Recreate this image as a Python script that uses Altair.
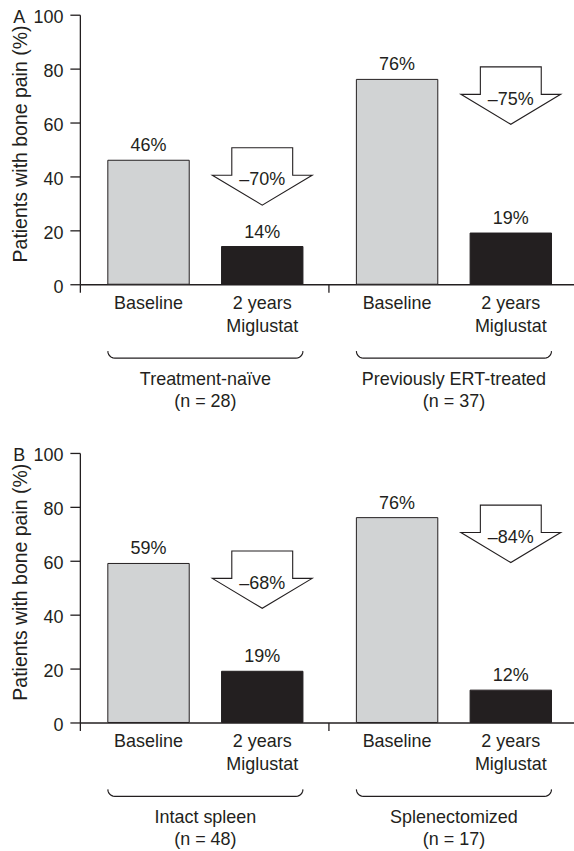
import math

import altair as alt
import pandas as pd

# ---- chart values ------------------------------------------------------
panel_tags = ["A", "B"]
subgroup_names = [["Treatment-naïve", "Previously ERT-treated"],
                  ["Intact spleen", "Splenectomized"]]
subgroup_n = [[28, 37], [48, 17]]
timepoint_lines = [["Baseline"], ["2 years", "Miglustat"]]
baseline_pct = [[46, 76], [59, 76]]
two_year_pct = [[14, 19], [19, 12]]
change_pct = [[-70, -75], [-68, -84]]
y_ticks = [0, 20, 40, 60, 80, 100]
y_title = "Patients with bone pain (%)"

# ---- layout & style ----------------------------------------------------
W, H = 495, 270
X_MAX = 3.976            # two subgroups, each 2 x-units wide
BAR_START = [0.225, 1.14]
BAR_W = 0.655
ARROW_DROP = 6           # arrow centre sits this far below the baseline bar
INK = "#231f20"
GREY = "#d1d3d4"
FONT = "Liberation Sans"
FS = 18

# hollow down arrow, unit box [-1, 1]
ARROW = ("M -0.61 -0.575 L 0.61 -0.575 L 0.61 -0.025 L 1 -0.025 "
         "L 0 0.575 L -1 -0.025 L -0.61 -0.025 Z")

PX = 100.0 / H           # y units per pixel


def panel(p):
    bar_rows, arrow_rows, brace_rows, group_rows = [], [], [], []
    for g in range(2):
        vals = [baseline_pct[p][g], two_year_pct[p][g]]
        for t in range(2):
            x0 = 2 * g + BAR_START[t]
            bar_rows.append({
                "phase": t, "x0": x0, "x1": x0 + BAR_W,
                "xc": x0 + BAR_W / 2, "value": vals[t],
                "label": f"{vals[t]}%",
                "tlabel": "\n".join(timepoint_lines[t]),
            })
        xa = 2 * g + BAR_START[1] + BAR_W / 2
        arrow_rows.append({
            "xa": xa, "ya": vals[0] - ARROW_DROP,
            "label": f"\u2013{abs(change_pct[p][g])}%",
        })
        left = 2 * g + BAR_START[0]
        right = 2 * g + BAR_START[1] + BAR_W
        # bracket under each subgroup: rounded ends, flat bottom
        r_px, top_px = 7.0, 67.0
        ux = X_MAX / W
        pts = []
        for k in range(7):
            a = math.radians(90 * k / 6)
            pts.append((left + (r_px - r_px * math.cos(a)) * ux,
                        top_px + r_px * math.sin(a)))
        for k in range(7):
            a = math.radians(90 - 90 * k / 6)
            pts.append((right - (r_px - r_px * math.cos(a)) * ux,
                        top_px + r_px * math.sin(a)))
        for k, (bx, by) in enumerate(pts):
            brace_rows.append({"g": g, "k": k, "bx": bx, "by": -by * PX})
        group_rows.append({
            "xg": (left + right) / 2,
            "glabel": f"{subgroup_names[p][g]}\n(n = {subgroup_n[p][g]})",
        })

    bars = pd.DataFrame(bar_rows)
    arrows = pd.DataFrame(arrow_rows)
    braces = pd.DataFrame(brace_rows)
    groups = pd.DataFrame(group_rows)
    tag = pd.DataFrame({"tag": [panel_tags[p]]})

    x_scale = alt.Scale(domain=[0, X_MAX], nice=False, zero=False)
    y_scale = alt.Scale(domain=[0, 100], nice=False)
    x_axis = alt.Axis(values=[0, 2], labels=False, title=None, grid=False,
                      tickSize=8, tickColor=INK, domainColor=INK,
                      tickWidth=1.3, domainWidth=1.3)
    y_axis = alt.Axis(values=y_ticks, title=y_title, grid=False,
                      tickSize=10, labelPadding=7, labelOffset=3,
                      labelFont=FONT, labelFontSize=18, labelColor=INK,
                      titleFont=FONT, titleFontSize=19.5, titleColor=INK,
                      titleFontWeight="normal", titleAngle=-90,
                      titleX=-53, titleY=129, titleAlign="center",
                      titleBaseline="alphabetic",
                      tickColor=INK, domainColor=INK,
                      tickWidth=1.3, domainWidth=1.3)

    rects = alt.Chart(bars).mark_rect(stroke=INK, strokeWidth=1).encode(
        x=alt.X("x0:Q", scale=x_scale, axis=x_axis),
        x2="x1:Q",
        y=alt.Y("value:Q", scale=y_scale, axis=y_axis),
        y2=alt.datum(0),
        color=alt.Color("phase:N", scale=alt.Scale(domain=[0, 1], range=[GREY, INK]),
                        legend=None),
    )
    values = alt.Chart(bars).mark_text(
        font=FONT, fontSize=FS, color=INK, baseline="alphabetic", dy=-9
    ).encode(x="xc:Q", y="value:Q", text="label:N")
    tlabels = alt.Chart(bars).mark_text(
        font=FONT, fontSize=FS, color=INK, baseline="alphabetic",
        lineBreak="\n", lineHeight=23
    ).encode(x="xc:Q", y=alt.value(H + 24.5), text="tlabel:N")

    arrow_marks = alt.Chart(arrows).mark_point(
        shape=ARROW, size=10000, filled=True, fill="white", stroke=INK,
        strokeWidth=1.1, opacity=1
    ).encode(x="xa:Q", y="ya:Q")
    arrow_text = alt.Chart(arrows).mark_text(
        font=FONT, fontSize=FS, color=INK, baseline="alphabetic", dy=9
    ).encode(x="xa:Q", y="ya:Q", text="label:N")

    brace = alt.Chart(braces).mark_line(color=INK, strokeWidth=1.2).encode(
        x="bx:Q", y="by:Q", detail="g:N", order="k:Q"
    )
    glabels = alt.Chart(groups).mark_text(
        font=FONT, fontSize=FS, color=INK, baseline="alphabetic",
        lineBreak="\n", lineHeight=22
    ).encode(x="xg:Q", y=alt.value(H + 100.5), text="glabel:N")

    letter = alt.Chart(tag).mark_text(
        font=FONT, fontSize=FS, color=INK, baseline="alphabetic", align="center"
    ).encode(x=alt.value(-60.7), y=alt.value(8.5), text="tag:N")

    return alt.layer(rects, values, arrow_marks, arrow_text, brace,
                     tlabels, glabels, letter).properties(width=W, height=H)


chart = alt.vconcat(panel(0), panel(1), spacing=169, bounds="flush").properties(
    padding={"left": 10, "top": 8, "right": 0, "bottom": 0}
).configure_view(stroke=None)

chart.save("out.html", embed_options={"renderer": "svg", "actions": False})
